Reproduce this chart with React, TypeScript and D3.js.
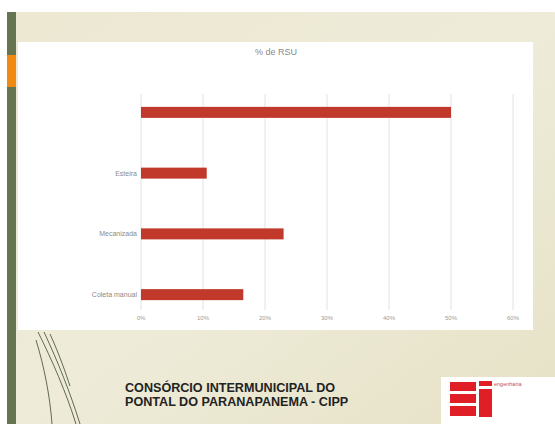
import React from "react";
import * as d3 from "d3";

const categories = ["", "Esteira", "Mecanizada", "Coleta manual"];
const values = [0.5, 0.106, 0.23, 0.165];
const tickValues = [0, 0.1, 0.2, 0.3, 0.4, 0.5, 0.6];
const chartTitle = "% de RSU";
const footerLines = ["CONSÓRCIO INTERMUNICIPAL DO", "PONTAL DO PARANAPANEMA - CIPP"];

export default function App() {
  const W = 555, H = 424;
  const x = d3.scaleLinear().domain([0, 0.6]).range([141, 513]);
  const y = d3.scalePoint<string>().domain(categories.map((c, i) => String(i))).range([82, 325]).padding(0.5);
  const barH = 11;
  const fmt = d3.format(".0%");
  const swoosh = [
    "M38,332 C52,360 66,392 76,424",
    "M44,332 C58,362 70,392 80,424",
    "M50,334 C60,356 66,374 70,386",
    "M36,340 C44,366 50,396 52,424",
  ];
  return (
    <svg width={W} height={H} style={{ position: "absolute", left: 0, top: 0 }}>
      <defs>
        <linearGradient id="bg" x1="0" y1="0" x2="1" y2="1">
          <stop offset="0" stopColor="#ece8d2" />
          <stop offset="0.5" stopColor="#eeebd9" />
          <stop offset="1" stopColor="#e6e2c6" />
        </linearGradient>
      </defs>
      <rect x={0} y={0} width={W} height={H} fill="#ffffff" />
      <rect x={7} y={12} width={W - 7} height={H - 12} fill="url(#bg)" />
      <rect x={7} y={12} width={9} height={H - 12} fill="#66744f" />
      <rect x={7} y={55} width={9} height={32} fill="#f08a10" />
      {swoosh.map((d, i) => (
        <path key={i} d={d} fill="none" stroke="#3e4a30" strokeWidth={1} opacity={0.8} />
      ))}
      <rect x={18} y={42} width={515} height={288} fill="#ffffff" />
      <text x={276} y={55} textAnchor="middle" fontFamily="Liberation Sans, Arial, sans-serif" fontSize={9} fill="#8a8a8a">{chartTitle}</text>
      {tickValues.map((t) => (
        <g key={t}>
          <line x1={x(t)} x2={x(t)} y1={94} y2={310} stroke="#e2e2e2" strokeWidth={1} />
          <text x={x(t)} y={320} textAnchor="middle" fontFamily="Liberation Sans, Arial, sans-serif" fontSize={6} fill="#9a9a9a">{fmt(t)}</text>
        </g>
      ))}
      {values.map((v, i) => (
        <g key={i}>
          <rect x={x(0)} y={(y(String(i)) as number) - barH / 2} width={x(v) - x(0)} height={barH} fill="#c0392b" />
          <text x={137} y={(y(String(i)) as number) + 2.5} textAnchor="end" fontFamily="Liberation Sans, Arial, sans-serif" fontSize={7} fill="#8a8a8a">{categories[i]}</text>
        </g>
      ))}
      {footerLines.map((l, i) => (
        <text key={i} x={125} y={392 + i * 14} fontFamily="Liberation Sans, Arial, sans-serif" fontWeight="bold" fontSize={12.6} fill="#222">{l}</text>
      ))}
      <rect x={441} y={377} width={114} height={47} fill="#ffffff" />
      <rect x={450} y={382} width={26} height={9} fill="#e01e25" />
      <rect x={450} y={394} width={26} height={9} fill="#e01e25" />
      <rect x={450} y={406} width={26} height={10} fill="#e01e25" />
      <rect x={479} y={381} width={13} height={5} fill="#e01e25" />
      <rect x={479} y={389} width={13} height={28} fill="#e01e25" />
      <text x={494} y={386} fontFamily="Liberation Sans, Arial, sans-serif" fontSize={5.5} fill="#c05050">engenharia</text>
    </svg>
  );
}
